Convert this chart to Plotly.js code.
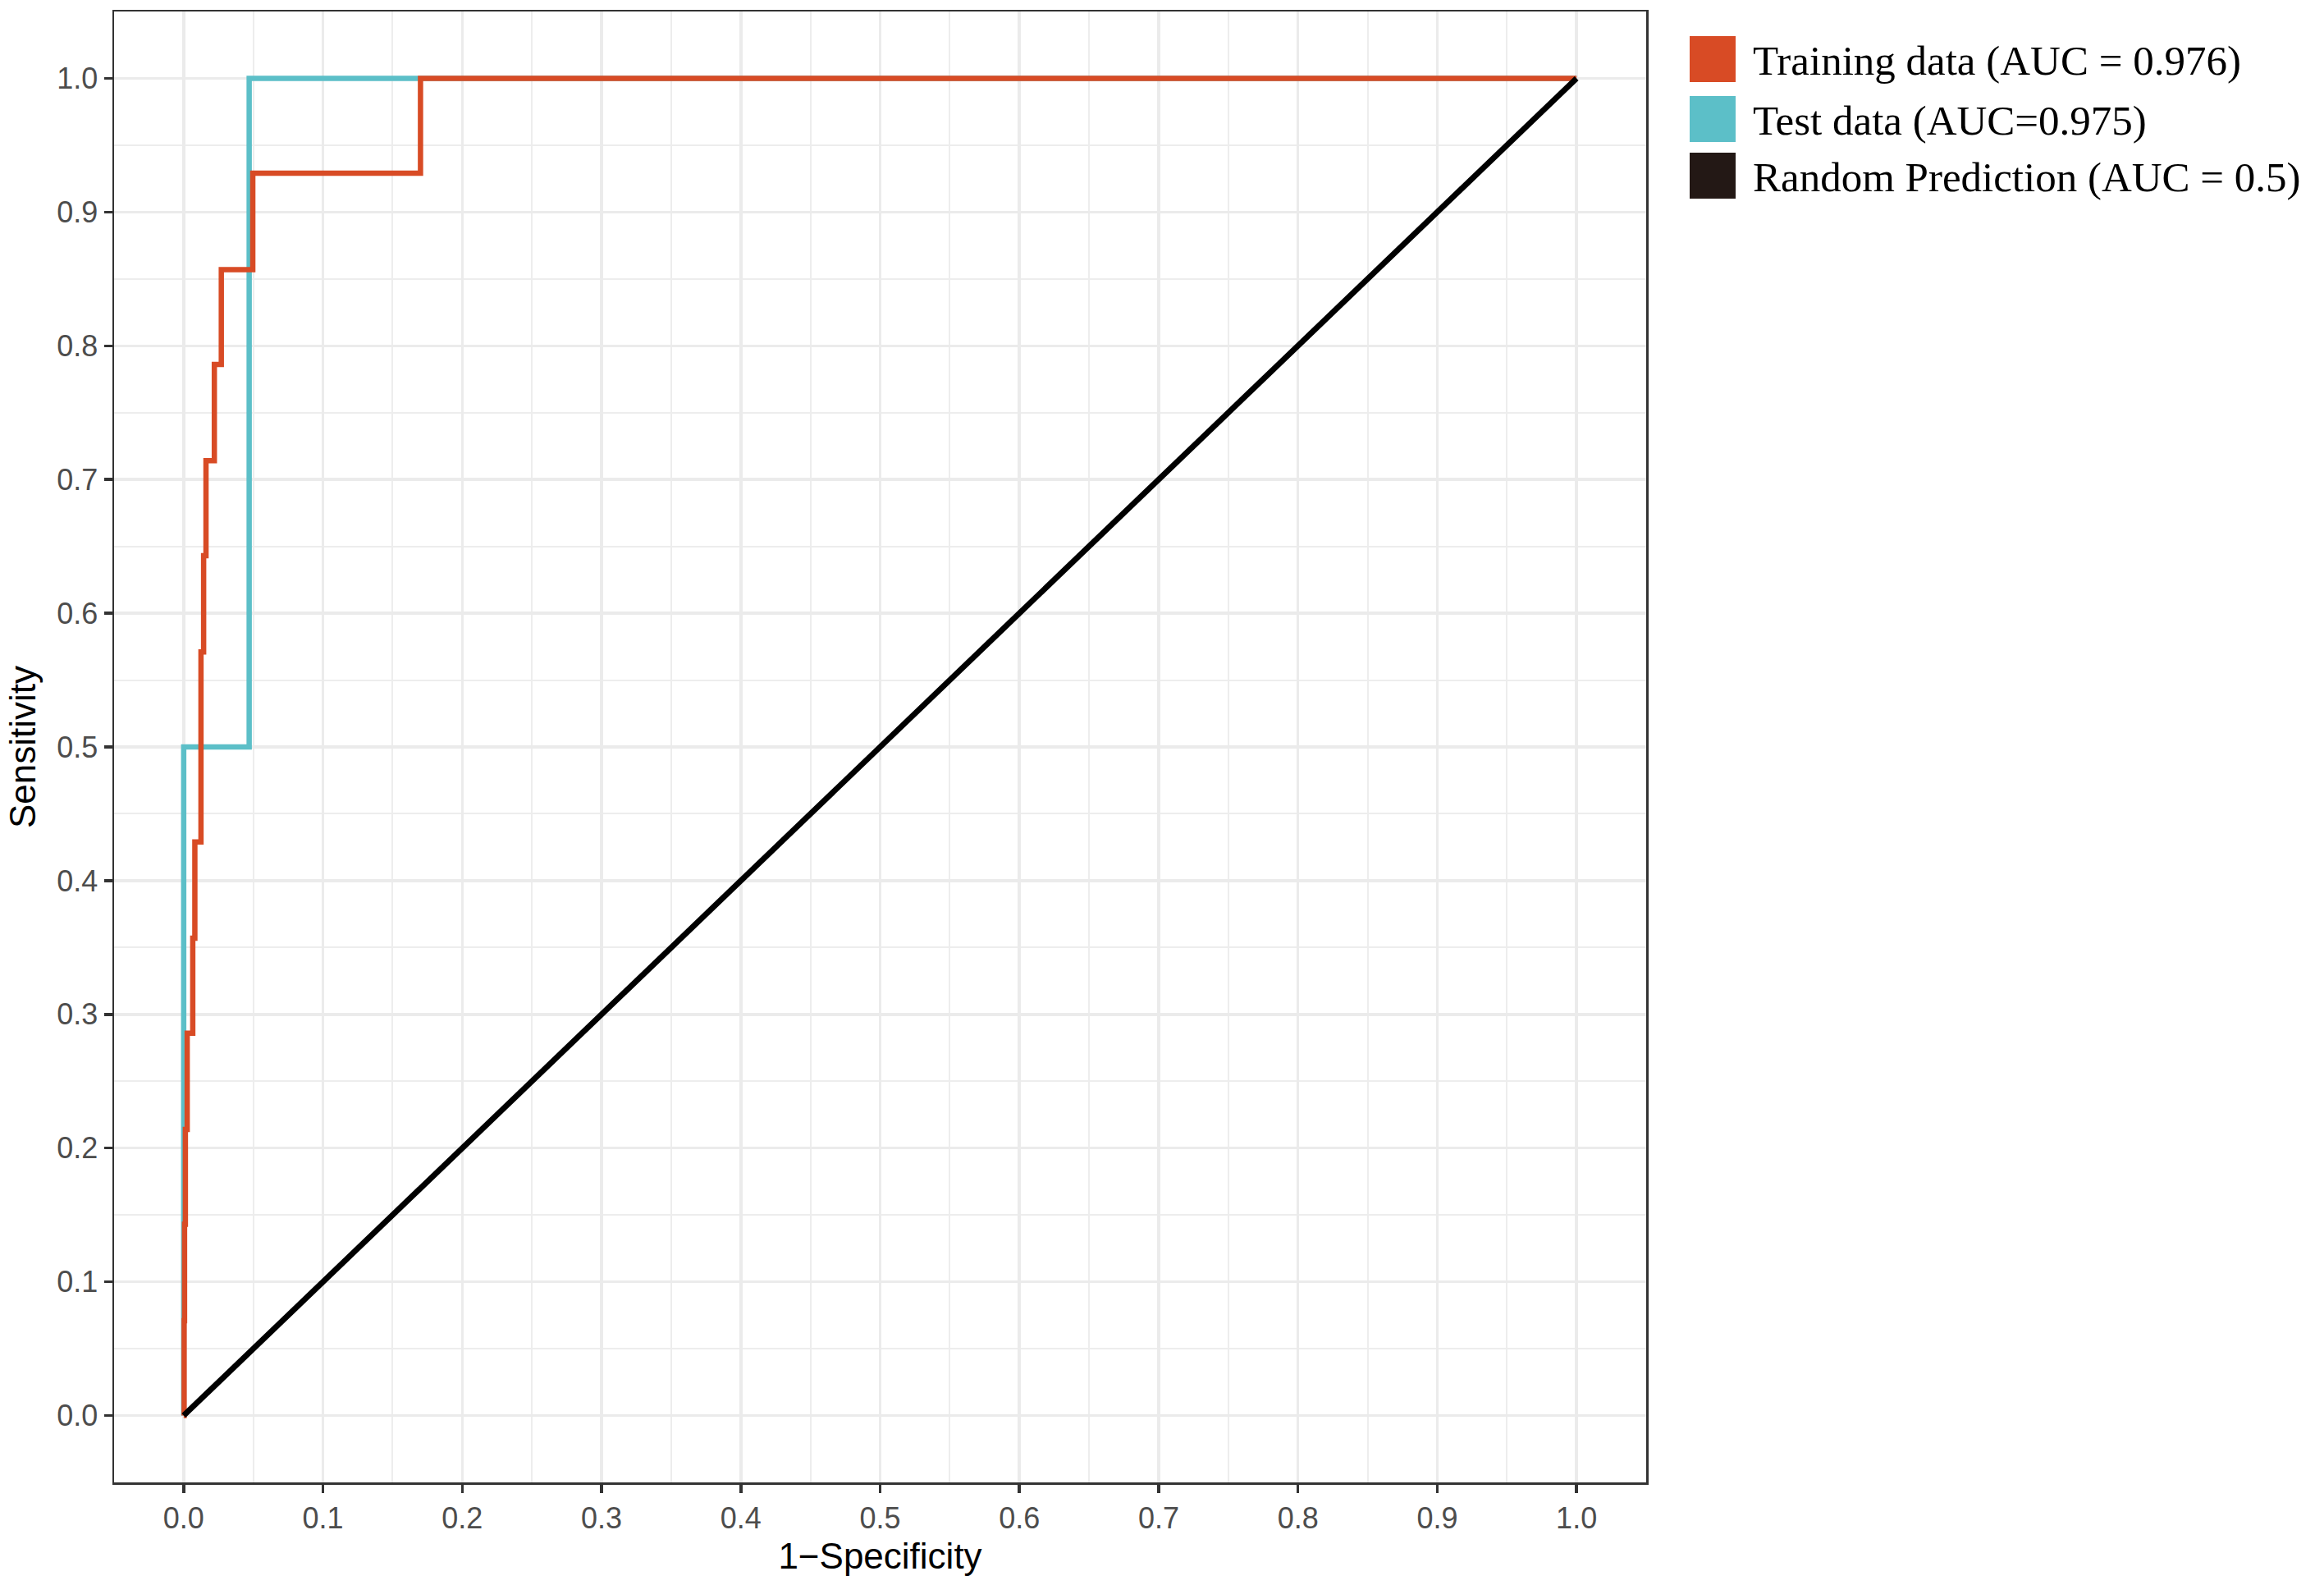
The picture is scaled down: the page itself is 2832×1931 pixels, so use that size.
<!DOCTYPE html>
<html>
<head>
<meta charset="utf-8">
<script src="https://cdn.plot.ly/plotly-3.0.1.min.js"></script>
<style>
  html, body { margin: 0; padding: 0; background: #fff; }
  #roc { width: 2832px; height: 1931px; }
</style>
</head>
<body>
<div id="roc"></div>
<script>
// ROC points (1 - specificity, sensitivity)
const trainFpr = [0, 0.0003, 0.0006, 0.0012, 0.0025, 0.0065, 0.008, 0.0124, 0.0143, 0.016, 0.022, 0.027, 0.0496, 0.17, 1.0];
const trainTpr = [0, 0.071, 0.143, 0.214, 0.286, 0.357, 0.429, 0.571, 0.643, 0.714, 0.786, 0.857, 0.929, 1.0, 1.0];
const testFpr = [0, 0, 0.047, 1.0];
const testTpr = [0, 0.5, 1.0, 1.0];
const randFpr = [0, 1];
const randTpr = [0, 1];

const names = ['Training data (AUC = 0.976)', 'Test data (AUC=0.975)', 'Random Prediction (AUC = 0.5)'];
const lineColors = ['#D84B25', '#5CBFC8', '#000000'];
const keyColors = ['#D84B25', '#5CBFC8', '#231815'];

const W = 2832, H = 1931;
const m = {l: 139, r: W - 2006, t: 14, b: H - 1806};
const pw = W - m.l - m.r, ph = H - m.t - m.b;
// pixel -> paper helpers (for the hand-made legend)
const px = (p) => (p - m.l) / pw;
const py = (p) => (H - m.b - p) / ph;

const traces = [
    {x: testFpr, y: testTpr, name: names[1], mode: 'lines', line: {color: lineColors[1], width: 6.5, shape: 'hv'}},
    {x: trainFpr, y: trainTpr, name: names[0], mode: 'lines', line: {color: lineColors[0], width: 6.5, shape: 'hv'}},
    {x: randFpr, y: randTpr, name: names[2], mode: 'lines', line: {color: lineColors[2], width: 7}}
];

const shapes = [];
const annotations = [];
const keyTops = [44, 117, 186];
names.forEach((n, i) => {
    shapes.push({
        type: 'rect', xref: 'paper', yref: 'paper',
        x0: px(2059), x1: px(2115), y0: py(keyTops[i] + 56), y1: py(keyTops[i]),
        fillcolor: keyColors[i], line: {width: 0}
    });
    annotations.push({
        xref: 'paper', yref: 'paper', x: px(2134), y: py(keyTops[i] + 30),
        xanchor: 'left', yanchor: 'middle', showarrow: false, text: n,
        font: {family: 'Liberation Serif, Times New Roman, serif', size: 51, color: '#000'}
    });
});

const axisBase = {
    range: [-0.05, 1.05],
    dtick: 0.1, tick0: 0, tickformat: '.1f',
    ticks: 'outside', ticklen: 10, tickwidth: 3.5, tickcolor: '#333333',
    tickfont: {family: 'Liberation Sans, Arial, sans-serif', size: 36, color: '#4D4D4D'},
    showgrid: true, gridcolor: '#EBEBEB', gridwidth: 3.5,
    minor: {dtick: 0.05, tick0: 0, showgrid: true, gridcolor: '#EDEDED', gridwidth: 2, ticks: ''},
    zeroline: false, showline: true, mirror: true, linecolor: '#333333', linewidth: 2.5,
    automargin: false
};

const layout = {
    width: W, height: H,
    margin: m,
    paper_bgcolor: '#fff', plot_bgcolor: '#fff',
    showlegend: false,
    xaxis: Object.assign({}, axisBase, {
        title: {text: '1\u2212Specificity', standoff: 12,
                font: {family: 'Liberation Sans, Arial, sans-serif', size: 44, color: '#000'}}
    }),
    yaxis: Object.assign({}, axisBase, {
        title: {text: 'Sensitivity', standoff: 12,
                font: {family: 'Liberation Sans, Arial, sans-serif', size: 44, color: '#000'}}
    }),
    shapes: shapes,
    annotations: annotations
};

Plotly.newPlot('roc', traces, layout, {staticPlot: true});
</script>
</body>
</html>
